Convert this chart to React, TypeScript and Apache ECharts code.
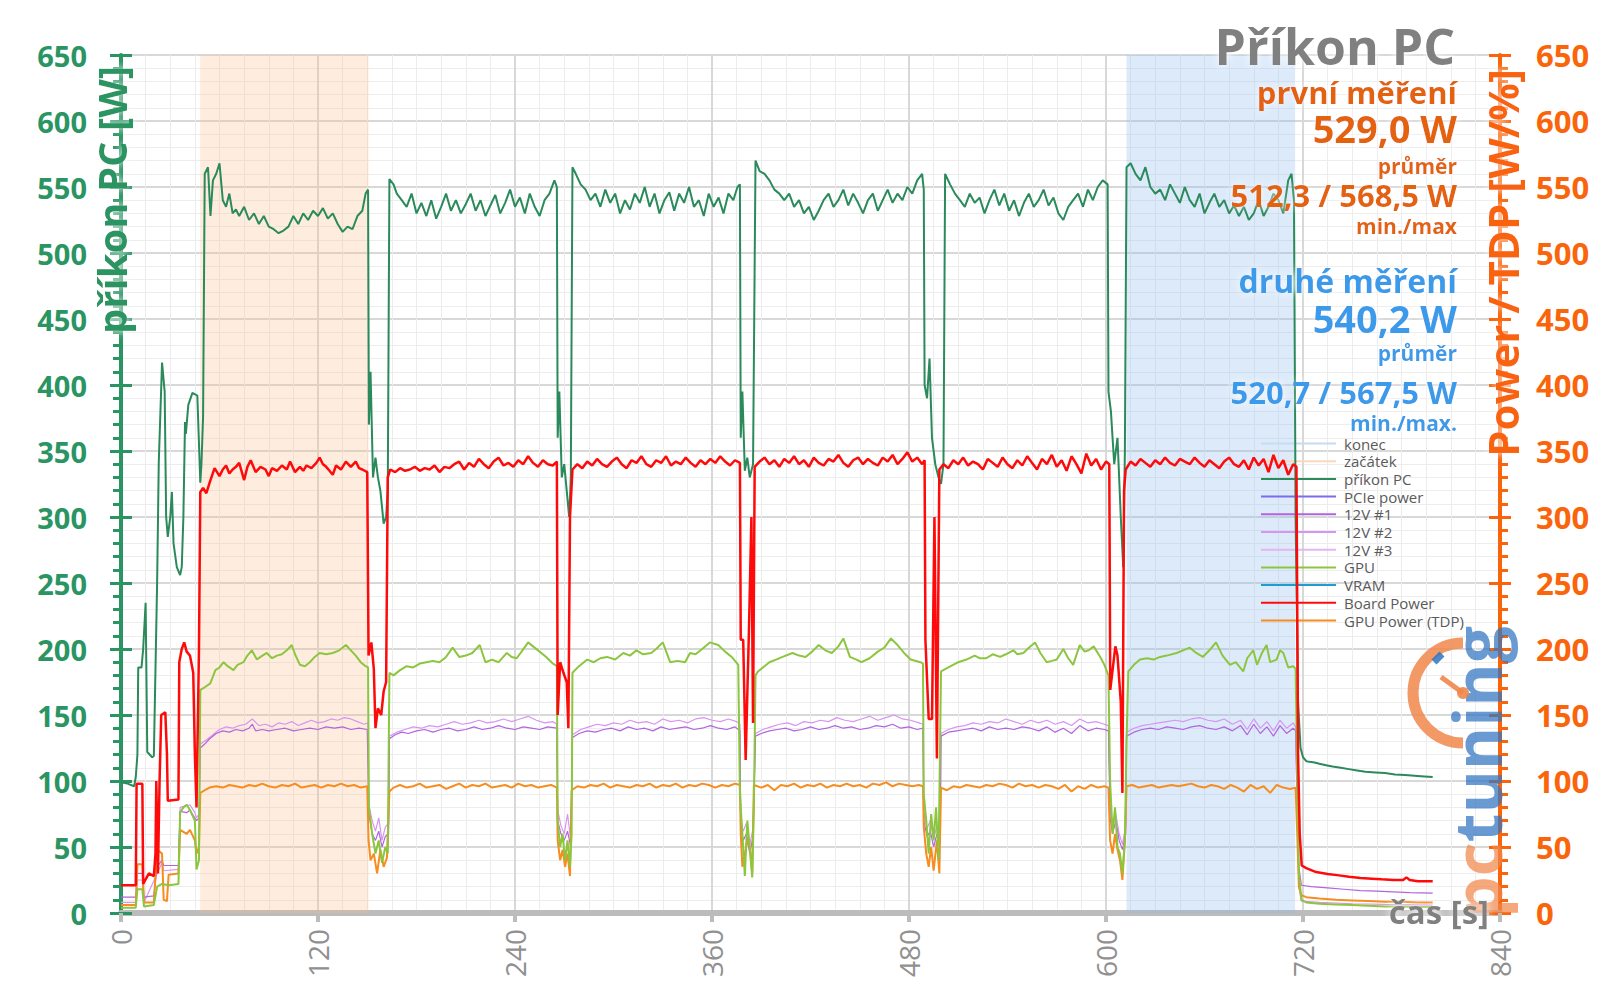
import React, { useEffect, useRef } from "react";
import * as echarts from "echarts";

// ---------- DATA (time [s], value) ----------
const pcPower: number[][] = [
  [0, 99], [4, 98], [8, 96], [9, 103], [10, 120], [10.5, 186], [12.5, 186], [13.5, 200], [15, 235], [16, 122], [19, 118], [20, 119],
  [22, 250], [23, 341], [25, 417], [26.6, 395], [27.5, 300], [28.5, 285], [30, 300], [31, 319], [32, 280], [34, 262], [36, 256],
  [37, 262], [38, 300], [39, 372], [39.5, 363], [41, 385], [43.5, 394], [46.5, 392], [48.3, 326], [49, 340], [50, 376], [51, 560],
  [53, 565], [54.5, 528], [56, 555], [58, 560], [60, 568], [62, 540], [64, 535], [66, 545], [68, 530], [70, 533], [72, 528], [75, 535],
  [78, 525], [81, 530], [84, 522], [87, 528], [90, 520], [93, 518], [96, 515], [99, 517], [102, 520], [105, 528], [108, 522], [111, 530],
  [114, 525], [117, 532], [120, 528], [123, 534], [126, 526], [129, 530], [132, 522], [135, 516], [138, 520], [141, 518], [144, 528],
  [147, 532], [149, 545], [150.5, 548],
  [151, 370], [152, 410], [153.5, 330], [155, 345], [156.5, 330], [158, 320], [160, 295], [161.5, 300], [162.5, 320], [163.5, 556],
  [166, 552], [168, 545], [171, 540], [174, 535], [177, 545], [180, 530], [183, 538], [186, 528], [189, 540], [192, 526], [195, 535],
  [198, 545], [201, 532], [204, 540], [207, 530], [210, 537], [213, 545], [216, 532], [219, 540], [222, 528], [225, 536], [228, 544],
  [231, 530], [234, 538], [237, 548], [240, 535], [243, 542], [246, 530], [249, 545], [252, 535], [255, 528], [258, 540], [261, 545],
  [264, 555], [265.5, 550],
  [266, 360], [267, 395], [268.5, 330], [270, 340], [271.5, 320], [273, 300], [274, 330], [275, 565], [277, 560], [280, 552], [283, 548],
  [286, 540], [289, 545], [292, 535], [295, 548], [298, 538], [301, 545], [304, 530], [307, 540], [310, 533], [313, 545], [316, 538],
  [319, 550], [322, 535], [325, 545], [328, 530], [331, 540], [334, 546], [337, 532], [340, 545], [343, 538], [346, 550], [349, 535],
  [352, 540], [355, 528], [358, 545], [361, 535], [364, 542], [367, 530], [370, 545], [373, 540], [375.5, 550], [377, 552],
  [377.5, 360], [378.5, 395], [380, 335], [381.5, 345], [383, 330], [385, 340], [386.5, 570], [389, 562], [392, 560], [395, 555],
  [398, 548], [401, 545], [404, 540], [407, 545], [410, 535], [413, 540], [416, 530], [419, 535], [422, 525], [425, 532], [428, 540],
  [431, 545], [434, 535], [437, 540], [440, 548], [443, 536], [446, 545], [449, 538], [452, 530], [455, 540], [458, 545], [461, 532],
  [464, 540], [467, 548], [470, 538], [473, 545], [476, 540], [479, 550], [482, 545], [485, 555], [488, 560], [489, 548],
  [489.5, 400], [491, 390], [492.5, 420], [494, 360], [496, 340], [498, 330], [499.5, 325], [501, 340], [502, 560], [505, 552],
  [508, 545], [511, 540], [514, 535], [517, 545], [520, 538], [523, 542], [526, 530], [529, 540], [532, 548], [535, 536], [538, 545],
  [541, 532], [544, 540], [547, 528], [550, 538], [553, 545], [556, 535], [559, 540], [562, 548], [565, 536], [568, 542], [571, 530],
  [574, 525], [577, 535], [580, 540], [583, 545], [586, 535], [589, 548], [592, 540], [595, 550], [598, 555], [601, 552],
  [601.5, 395], [603, 380], [605, 340], [607, 360], [609, 300], [610.5, 262], [611.5, 350], [612.5, 565], [615, 568], [618, 560],
  [621, 555], [624, 565], [627, 550], [630, 545], [633, 548], [636, 540], [639, 552], [642, 545], [645, 538], [648, 550], [651, 540],
  [654, 535], [657, 545], [660, 530], [663, 538], [666, 545], [669, 535], [672, 540], [675, 530], [678, 536], [681, 528], [684, 535],
  [687, 525], [690, 530], [693, 540], [696, 528], [699, 535], [702, 545], [705, 540], [708, 530], [711, 555], [713, 560], [714.5, 540],
  [715.5, 300], [717, 160], [718.5, 125], [720, 118], [722, 115], [724, 114.5], [727, 114], [730, 113], [734, 112], [738, 111],
  [743, 110], [748, 109], [753, 108], [758, 107], [764, 106.5], [770, 106], [776, 105], [782, 104.5], [788, 104], [794, 103.5], [799, 103],
];

const boardPower: number[][] = [
  [0, 21], [9, 21], [9.5, 98], [13, 98], [13.5, 22], [17, 30], [20, 28], [21, 45], [21.5, 100], [22.5, 30], [23.5, 100], [24.5, 150],
  [27, 152], [28, 120], [28.5, 85], [35, 86], [35.5, 190], [37, 200], [38.5, 205], [40, 198], [42, 195], [44, 182], [45, 120], [46, 80],
  [47.5, 200], [48.3, 319], [50, 322], [52, 318], [54, 326], [57, 337], [60, 331], [62, 336], [64, 339], [66, 333], [68, 336], [70, 338],
  [72, 341], [75, 328], [77, 338], [79, 343], [82, 334], [85, 338], [88, 336], [90, 331], [92, 337], [95, 335], [98, 339], [101, 336],
  [103, 342], [106, 334], [109, 338], [111, 335], [113, 339], [116, 337], [119, 341], [121, 345], [123, 340], [125, 338], [127, 335],
  [129, 332], [131, 339], [134, 336], [137, 342], [140, 338], [143, 342], [145, 337], [147, 336], [150, 334],
  [150.8, 195], [152.5, 205], [154, 185], [155, 140], [156.5, 155], [158.5, 150], [160, 168], [161.5, 175], [162.5, 330], [164, 336],
  [167, 334], [170, 337], [173, 335], [176, 336], [179, 338], [182, 335], [185, 337], [188, 336], [191, 339], [194, 334], [197, 338],
  [200, 337], [203, 340], [206, 342], [209, 336], [212, 341], [215, 338], [218, 344], [221, 340], [224, 337], [227, 342], [230, 345],
  [233, 339], [236, 341], [239, 338], [242, 343], [245, 340], [248, 346], [251, 341], [254, 338], [257, 343], [260, 340], [263, 339],
  [265.5, 342],
  [266, 150], [267.5, 190], [269.5, 182], [271.5, 175], [272.5, 140], [273.5, 300], [275, 336], [278, 340], [281, 337], [284, 342],
  [287, 339], [290, 344], [293, 340], [296, 338], [299, 342], [302, 345], [305, 340], [308, 337], [311, 343], [314, 341], [317, 346],
  [320, 340], [323, 338], [326, 343], [329, 341], [332, 346], [335, 339], [338, 342], [341, 340], [344, 345], [347, 341], [350, 338],
  [353, 343], [356, 340], [359, 344], [362, 341], [365, 346], [368, 342], [371, 339], [374, 343], [377, 341],
  [377.5, 207], [379, 207], [380.5, 116], [382.5, 214], [384, 300], [385, 144], [386, 338], [389, 342], [392, 345], [395, 340],
  [398, 343], [401, 338], [404, 344], [407, 341], [410, 346], [413, 340], [416, 343], [419, 338], [422, 345], [425, 341], [428, 339],
  [431, 344], [434, 342], [437, 347], [440, 341], [443, 338], [446, 343], [449, 345], [452, 340], [455, 344], [458, 341], [461, 339],
  [464, 345], [467, 342], [470, 347], [473, 340], [476, 344], [479, 349], [482, 342], [485, 345], [488, 340], [489.5, 343],
  [490, 207], [492, 147], [494, 147], [495.5, 300], [497, 117], [498.5, 336], [501, 340], [504, 337], [507, 343], [510, 340],
  [513, 345], [516, 339], [519, 342], [522, 340], [525, 336], [528, 344], [531, 341], [534, 338], [537, 345], [540, 340], [543, 337],
  [546, 343], [549, 339], [552, 346], [555, 341], [558, 336], [561, 344], [564, 340], [567, 347], [570, 338], [573, 343], [576, 335],
  [579, 346], [582, 340], [585, 333], [588, 348], [591, 339], [594, 344], [597, 336], [600, 342], [602, 340],
  [602.6, 169], [605.7, 202], [607, 195], [609, 160], [610, 91], [611, 320], [612, 336], [615, 342], [618, 339], [621, 344], [624, 341],
  [627, 338], [630, 343], [633, 340], [636, 345], [639, 341], [642, 339], [645, 344], [648, 342], [651, 340], [654, 345], [657, 341],
  [660, 338], [663, 343], [666, 340], [669, 337], [672, 342], [675, 345], [678, 340], [681, 338], [684, 343], [687, 336], [690, 345],
  [693, 339], [696, 344], [699, 334], [702, 347], [705, 337], [708, 343], [711, 332], [714, 340], [716, 338],
  [717, 120], [718, 60], [719.2, 36], [722, 34], [728, 31], [735, 29.5], [742, 28.5], [748, 27.5], [755, 26.5], [762, 26], [768, 25.5],
  [775, 25], [781, 25], [783, 27], [785, 25], [790, 24], [799, 24],
];

const gpuPower: number[][] = [
  [0, 4], [9, 4], [10, 18], [13, 18], [14, 5], [20, 6], [22, 20], [25, 22], [29, 21], [35, 22], [36, 76], [38, 80], [40, 82], [42, 78],
  [45, 70], [46, 33], [47.5, 40], [48.3, 169], [51, 171], [54.4, 174], [57.5, 184], [60, 186], [62.5, 190], [65, 187], [68.5, 184],
  [71, 188], [74.6, 190], [77, 195], [79.7, 199], [82.8, 192], [85, 194], [88.8, 197], [92, 193], [95, 195], [98, 196], [101, 199],
  [104, 203], [106, 196], [109, 188], [112, 187], [115, 190], [118, 194], [121, 197], [125, 196], [129, 197], [133, 199], [137, 203],
  [140, 199], [143, 195], [146, 190], [149, 187], [150.5, 186],
  [151, 80], [153, 60], [155, 45], [157, 55], [159, 38], [161, 50], [162.5, 45], [163.5, 182], [166, 180], [170, 184], [174, 187],
  [178, 186], [182, 189], [186, 190], [190, 191], [194, 190], [198, 194], [202, 201], [206, 194], [210, 195], [214, 197], [218.5, 203],
  [222, 190], [226, 192], [230, 190], [235, 197], [238, 194], [241, 193], [244, 198], [248, 205], [251, 202], [255, 198], [259, 194],
  [263, 189], [265.5, 187],
  [266, 70], [267.5, 50], [269, 60], [270.5, 40], [272, 55], [273.5, 35], [274.5, 60], [275, 182], [279, 187], [284, 192], [288, 190],
  [292, 193], [296, 194], [301, 192], [306, 197], [310, 195], [314, 199], [318, 196], [323, 197], [326, 200], [330, 205], [334.5, 190],
  [339, 191], [343.6, 190], [346.6, 197], [350, 196], [354, 200], [358.7, 205], [363.8, 203], [368, 198], [372, 194], [376, 188],
  [377, 90], [378.5, 60], [380, 28], [381.5, 70], [383, 50], [384.5, 27], [385.5, 80], [386.5, 180], [388, 183], [391, 186], [395, 190],
  [399, 192], [403, 194], [409, 197], [413, 195], [417, 194], [421, 198], [425, 203], [429, 199], [433, 197], [437, 202], [440, 208],
  [444, 194], [448, 192], [451, 190], [456, 193], [461, 198], [465, 201], [469, 208], [473, 203], [477, 197], [481, 192], [487, 190],
  [488.5, 189],
  [489, 90], [490.5, 70], [492, 45], [493.5, 75], [495, 55], [496.5, 80], [498, 40], [499.5, 183], [504, 186], [510, 190], [515, 192],
  [520, 195], [523, 193], [527, 193], [531, 196], [535.5, 194], [539, 196], [543.6, 199], [546, 196], [549.7, 197], [553, 201],
  [556.8, 205], [560, 197], [563.9, 190], [567, 191], [570, 192], [574, 200], [577, 193], [580, 188], [584, 203], [587, 198],
  [589.5, 199], [592.5, 202], [596.5, 194], [599, 188], [601.5, 180],
  [602.5, 100], [604, 60], [605.5, 80], [607, 50], [608.5, 45], [610, 30], [611.5, 55], [612.5, 130], [613.6, 183], [617, 188],
  [620.7, 192], [625, 193], [629, 192], [632.9, 194], [637, 195], [643, 197], [647, 199], [651, 201], [655, 197], [659, 194], [663, 199],
  [667, 205], [671, 195], [675.5, 188], [679, 190], [683.6, 183], [686, 193], [689.7, 199], [692, 188], [695, 197], [697.8, 203],
  [700, 190], [703.9, 192], [706, 199], [708, 197], [711, 186], [714, 187], [715.5, 185],
  [716.5, 100], [717.5, 30], [719, 10], [722, 8], [730, 7], [740, 6.5], [750, 6], [760, 5.5], [770, 5], [780, 5], [790, 4.5], [799, 4.5],
];

const tdpPower: number[][] = [
  [0, 6], [9, 6], [10, 37], [13, 37], [14, 8], [20, 8], [22, 48], [25, 45], [26, 10], [28, 9], [29, 29], [35, 30], [36, 63], [40, 60],
  [42, 63], [45, 55], [46, 45], [47.5, 50], [48.3, 91], [51, 93], [54, 95], [58, 96], [62, 95], [66, 97], [70, 96], [74, 95], [78, 97],
  [82, 96], [86, 98], [90, 96], [94, 95], [98, 97], [102, 96], [106, 98], [110, 95], [114, 96], [118, 97], [122, 95], [126, 97],
  [130, 96], [134, 98], [138, 96], [142, 97], [146, 95], [150, 96],
  [150.8, 55], [152, 40], [154, 45], [156, 30], [158, 48], [160, 35], [162, 42], [163.5, 92], [166, 95], [170, 97], [174, 95],
  [178, 96], [182, 98], [186, 95], [190, 96], [194, 97], [198, 94], [202, 96], [206, 98], [210, 95], [214, 97], [218, 96], [222, 98],
  [226, 95], [230, 96], [234, 97], [238, 95], [242, 98], [246, 96], [250, 97], [254, 95], [258, 96], [262, 97], [265.5, 95],
  [266, 55], [267.5, 40], [269, 48], [270.5, 35], [272, 45], [273.5, 28], [274.5, 93], [278, 96], [282, 95], [286, 97], [290, 96],
  [294, 98], [298, 95], [302, 97], [306, 96], [310, 95], [314, 97], [318, 96], [322, 98], [326, 95], [330, 97], [334, 96], [338, 98],
  [342, 95], [346, 97], [350, 96], [354, 98], [358, 97], [362, 95], [366, 97], [370, 96], [374, 98], [377, 97],
  [377.5, 60], [378.5, 35], [380, 45], [381.5, 55], [383, 50], [384.5, 30], [385.5, 97], [390, 95], [394, 97], [398, 93], [402, 97],
  [406, 96], [410, 98], [414, 95], [418, 97], [422, 96], [426, 98], [430, 95], [434, 97], [438, 96], [442, 98], [446, 96], [450, 97],
  [454, 95], [458, 98], [462, 97], [466, 99], [470, 96], [474, 98], [478, 97], [482, 96], [486, 97], [488.5, 96],
  [489, 65], [490.5, 45], [492, 35], [493.5, 50], [495, 32], [497, 55], [498.5, 30], [499.5, 95], [503, 93], [507, 96], [511, 95],
  [515, 97], [519, 96], [523, 95], [527, 97], [531, 96], [535, 98], [539, 97], [543, 95], [547, 98], [551, 96], [555, 97], [559, 95],
  [563, 97], [567, 96], [571, 94], [575, 97], [579, 92], [583, 96], [587, 94], [591, 97], [595, 95], [599, 96], [601.5, 95],
  [602.5, 55], [604, 45], [605.5, 60], [607, 48], [608.5, 40], [610, 25], [611.5, 55], [612.5, 96], [616, 97], [620, 95], [624, 96],
  [628, 97], [632, 95], [636, 96], [640, 97], [644, 96], [648, 97], [652, 98], [656, 96], [660, 95], [664, 97], [668, 96], [672, 94],
  [676, 97], [680, 95], [684, 92], [688, 97], [692, 94], [696, 96], [700, 91], [704, 97], [708, 95], [712, 94], [715.5, 95],
  [716.5, 60], [717.5, 20], [719, 13.5], [722, 12], [730, 11], [740, 10], [750, 9.5], [760, 9], [770, 8.5], [780, 8.5], [790, 8], [799, 8],
];

const v12One: number[][] = [
  [0, 12], [9, 12], [10, 30], [13, 30], [14, 12], [20, 13], [22, 35], [25, 40], [26, 36], [35, 36], [36, 77], [40, 76], [42, 78],
  [45, 72], [46, 70], [47.5, 72], [48.3, 125], [51, 128], [54, 132], [58, 136], [62, 138], [66, 137], [70, 139], [74, 138], [78, 140],
  [80, 143], [82, 138], [86, 139], [90, 138], [95, 139], [100, 140], [105, 138], [110, 139], [115, 140], [120, 139], [125, 141],
  [130, 140], [135, 141], [140, 139], [145, 140], [150, 139],
  [151, 75], [153, 60], [155, 55], [157, 62], [159, 50], [161, 58], [163, 60], [163.5, 132], [167, 135], [171, 137], [175, 136],
  [180, 138], [185, 139], [190, 137], [195, 139], [200, 140], [205, 138], [210, 139], [215, 141], [220, 139], [225, 140], [230, 142],
  [235, 140], [240, 139], [245, 141], [250, 140], [255, 139], [260, 141], [265.5, 140],
  [266, 70], [268, 60], [270, 55], [272, 62], [274, 50], [275, 133], [279, 136], [284, 138], [289, 137], [294, 139], [299, 140],
  [304, 138], [309, 141], [314, 139], [319, 140], [324, 138], [329, 141], [334, 139], [339, 140], [344, 141], [349, 139], [354, 140],
  [359, 142], [364, 140], [369, 139], [374, 141], [377, 138],
  [377.5, 65], [379, 55], [381, 60], [383, 45], [385, 58], [386.5, 134], [390, 136], [395, 138], [400, 139], [405, 140], [410, 138],
  [415, 139], [420, 141], [425, 139], [430, 140], [435, 142], [440, 140], [445, 141], [450, 139], [455, 140], [460, 142], [465, 141],
  [470, 143], [475, 140], [480, 141], [485, 139], [488.5, 140],
  [489, 70], [491, 58], [493, 62], [495, 50], [497, 60], [499, 55], [499.5, 134], [504, 137], [509, 138], [514, 139], [519, 140],
  [524, 138], [529, 141], [534, 139], [539, 140], [544, 139], [549, 141], [554, 140], [559, 138], [564, 141], [569, 137], [574, 140],
  [579, 136], [584, 142], [589, 138], [594, 140], [599, 139], [601.5, 138],
  [602.5, 72], [604, 60], [606, 70], [608, 55], [610, 48], [612, 60], [612.5, 134], [617, 137], [622, 139], [627, 140], [632, 139],
  [637, 141], [642, 140], [647, 139], [652, 141], [657, 142], [662, 140], [667, 139], [672, 141], [677, 138], [682, 142], [686, 135],
  [690, 143], [694, 136], [698, 141], [702, 134], [706, 142], [710, 136], [714, 140], [715.5, 138],
  [716.5, 80], [717.5, 35], [719, 21], [725, 20], [735, 19], [745, 18], [755, 17], [765, 16.5], [775, 16], [785, 15.5], [799, 15],
];

const v12Two: number[][] = [
  [0, 8], [9, 8], [10, 25], [13, 25], [14, 8], [22, 30], [25, 38], [26, 32], [35, 33], [36, 80], [42, 82], [45, 76], [46, 72],
  [47.5, 75], [48.3, 128], [52, 131], [56, 135], [60, 139], [64, 141], [68, 140], [72, 142], [76, 143], [80, 147], [84, 142], [88, 143],
  [92, 141], [96, 144], [100, 143], [104, 145], [108, 142], [112, 144], [116, 146], [120, 144], [124, 145], [128, 147], [132, 146],
  [136, 148], [140, 147], [144, 145], [148, 143], [150.5, 144],
  [151, 82], [153, 70], [155, 62], [157, 72], [159, 55], [161, 65], [163, 68], [163.5, 134], [168, 137], [173, 139], [178, 141],
  [183, 140], [188, 142], [193, 141], [198, 143], [203, 145], [208, 143], [213, 144], [218, 146], [223, 144], [228, 145], [233, 147],
  [238, 145], [243, 147], [248, 149], [253, 146], [258, 144], [263, 145], [265.5, 143],
  [266, 78], [268, 66], [270, 60], [272, 75], [274, 55], [275, 135], [280, 139], [285, 141], [290, 143], [295, 142], [300, 144],
  [305, 143], [310, 146], [315, 144], [320, 145], [325, 143], [330, 147], [335, 145], [340, 146], [345, 144], [350, 147], [355, 148],
  [360, 146], [365, 145], [370, 147], [375, 145], [377, 143],
  [377.5, 70], [379, 62], [381, 68], [383, 52], [385, 64], [386.5, 136], [391, 139], [396, 141], [401, 143], [406, 144], [411, 142],
  [416, 145], [421, 144], [426, 146], [431, 145], [436, 148], [441, 146], [446, 145], [451, 147], [456, 149], [461, 146], [466, 148],
  [471, 150], [476, 147], [481, 146], [486, 144], [488.5, 143],
  [489, 76], [491, 64], [493, 70], [495, 56], [497, 66], [499, 60], [499.5, 136], [504, 139], [509, 141], [514, 142], [519, 144],
  [524, 143], [529, 145], [534, 144], [539, 147], [544, 145], [549, 143], [554, 146], [559, 144], [564, 146], [569, 143], [574, 145],
  [579, 142], [584, 147], [589, 144], [594, 145], [599, 143], [601.5, 142],
  [602.5, 80], [604, 66], [606, 75], [608, 60], [610, 52], [612, 66], [612.5, 137], [617, 140], [622, 142], [627, 143], [632, 144],
  [637, 145], [642, 146], [647, 145], [652, 147], [657, 148], [662, 146], [667, 145], [672, 147], [677, 143], [682, 146], [686, 139],
  [690, 147], [694, 140], [698, 145], [702, 138], [706, 146], [710, 140], [714, 144], [715.5, 141],
  [716.5, 70], [717.5, 20], [719, 9], [730, 8], [750, 7], [770, 6.5], [799, 6],
];

const v12Three: number[][] = [];
const pciePower: number[][] = [];
const vramPower: number[][] = [];

const firstRun = [48.2, 150.8];
const secondRun = [612.5, 715.2];

const legendNames = ["konec", "začátek", "příkon PC", "PCIe power", "12V #1", "12V #2", "12V #3", "GPU", "VRAM", "Board Power", "GPU Power (TDP)"];

const chartTitle = "Příkon PC";
const summaryFirst = ["první měření", "529,0 W", "průměr", "512,3 / 568,5 W", "min./max"];
const summarySecond = ["druhé měření", "540,2 W", "průměr", "520,7 / 567,5 W", "min./max."];
const leftAxisName = "příkon PC [W]";
const rightAxisName = "Power / TDP [W/%]";
const xAxisName = "čas [s]";

// ---------- STYLE ----------
const FONT = "'Open Sans', 'Noto Sans', 'DejaVu Sans', sans-serif";
const GREEN = "#2a9563";
const ORANGE_AX = "#fa640a";
const ORANGE_TXT = "#e4620c";
const BLUE_TXT = "#3b9ae9";
const GRAY = "#808080";

function lineSeries(name: string, data: number[][], color: string, width: number, yAxisIndex: number, z: number) {
  return {
    name,
    type: "line",
    data,
    yAxisIndex,
    symbol: "none",
    showSymbol: false,
    silent: true,
    z,
    lineStyle: { color, width },
    itemStyle: { color },
  };
}

function glowText(text: string, x: number, y: number, size: number, color: string, weight = "bold", extra: any = {}) {
  const { align, ...rest } = extra;
  return {
    type: "text",
    x,
    y,
    z: 100,
    silent: true,
    ...rest,
    style: {
      text,
      fill: color,
      fontSize: size,
      fontWeight: weight,
      fontFamily: FONT,
      lineHeight: Math.round(size * 0.85),
      align: align || "right",
      textAlign: align || "right",
      verticalAlign: "middle",
      textVerticalAlign: "middle",
      textShadowColor: "rgba(255,255,255,1)",
      textShadowBlur: 8,
    },
  };
}

function buildOption() {
  const yCommon = { type: "value", min: 0, max: 650, interval: 50 };
  const rightX = 1457;
  const firstY = [92, 128, 166, 195, 226];
  const secondY = [280, 318, 353, 392, 423];
  const sizes = [31, 38, 21, 31, 21];
  const headSizes = [32, 38, 21, 31, 21];

  const graphics: any[] = [
    glowText(chartTitle, 1455, 46, 50, GRAY),
    ...summaryFirst.map((t, i) => glowText(t, rightX, firstY[i], sizes[i], ORANGE_TXT)),
    ...summarySecond.map((t, i) => glowText(t, rightX, secondY[i], headSizes[i], BLUE_TXT)),
    glowText(leftAxisName, 111, 200, 40, GREEN, "bold", { rotation: Math.PI / 2, align: "center" }),
    glowText(rightAxisName, 1502, 263, 42, ORANGE_AX, "bold", { rotation: Math.PI / 2, align: "center" }),
    glowText(xAxisName, 1489, 911, 33, GRAY),
    // logo
    {
      type: "arc",
      z: 60,
      silent: true,
      shape: { cx: 1463, cy: 693, r: 50, startAngle: Math.PI * 0.5, endAngle: Math.PI * 1.5, clockwise: true },
      style: { stroke: "#f0874a", lineWidth: 11, fill: "none", opacity: 0.85 },
    },
    {
      type: "line",
      z: 61,
      silent: true,
      shape: { x1: 1463, y1: 693, x2: 1441, y2: 677 },
      style: { stroke: "#f0874a", lineWidth: 5, opacity: 0.9 },
    },
    {
      type: "circle",
      z: 61,
      silent: true,
      shape: { cx: 1463, cy: 693, r: 6 },
      style: { fill: "#f0874a", opacity: 0.9 },
    },
    {
      type: "line",
      z: 61,
      silent: true,
      shape: { x1: 1434, y1: 662, x2: 1442, y2: 654 },
      style: { stroke: "#2f74c0", lineWidth: 7, opacity: 0.85 },
    },
    {
      type: "text",
      x: 1476,
      y: 772,
      rotation: Math.PI / 2,
      z: 55,
      silent: true,
      style: {
        text: "{a|pc}{b|tuning}",
        align: "center",
        textAlign: "center",
        verticalAlign: "middle",
        textVerticalAlign: "middle",
        rich: {
          a: { fill: "#f0874a", color: "#f0874a", fontSize: 66, fontWeight: "bold", fontFamily: FONT },
          b: { fill: "#2f74c0", color: "#2f74c0", fontSize: 66, fontWeight: "bold", fontFamily: FONT },
        },
        opacity: 0.72,
      },
    },
  ];

  return {
    animation: false,
    backgroundColor: "#ffffff",
    grid: { left: 121, right: 100, top: 55, bottom: 95, containLabel: false },
    legend: {
      orient: "vertical",
      left: 1255,
      top: 431,
      itemWidth: 75,
      itemHeight: 10,
      itemGap: 2.7,
      data: legendNames,
      itemStyle: { opacity: 0 },
      textStyle: { fontSize: 15, color: "#5a5a5a", fontFamily: FONT, padding: [0, 0, 0, 3] },
      selectedMode: false,
    },
    xAxis: {
      type: "value",
      min: 0,
      max: 840,
      interval: 120,
      axisLine: { show: true, onZero: false, lineStyle: { color: "#bcbcbc", width: 6 } },
      axisTick: { show: true, length: 9, lineStyle: { color: "#bcbcbc", width: 4 } },
      minorTick: { show: false, splitNumber: 8 },
      axisLabel: { rotate: 90, fontSize: 28, color: "#909090", fontFamily: FONT, margin: 16 },
      splitLine: { show: true, lineStyle: { color: "#d8d8d8", width: 2 } },
      minorSplitLine: { show: true, lineStyle: { color: "#ececec", width: 1 } },
    },
    yAxis: [
      {
        ...yCommon,
        position: "left",
        axisLine: { show: true, lineStyle: { color: GREEN, width: 4 } },
        axisTick: { show: true, length: 11, lineStyle: { color: GREEN, width: 3 } },
        minorTick: { show: true, splitNumber: 5, length: 8, lineStyle: { color: GREEN, width: 3 } },
        axisLabel: { fontSize: 29, fontWeight: "bold", color: GREEN, fontFamily: FONT, margin: 34 },
        splitLine: { show: true, lineStyle: { color: "#d8d8d8", width: 2 } },
        minorSplitLine: { show: true, lineStyle: { color: "#ededed", width: 1 } },
      },
      {
        ...yCommon,
        position: "right",
        axisLine: { show: true, lineStyle: { color: ORANGE_AX, width: 4 } },
        axisTick: { show: true, length: 11, lineStyle: { color: ORANGE_AX, width: 3 } },
        minorTick: { show: true, splitNumber: 5, length: 8, lineStyle: { color: ORANGE_AX, width: 3 } },
        axisLabel: { fontSize: 31, fontWeight: "bold", color: ORANGE_AX, fontFamily: FONT, margin: 36 },
        splitLine: { show: false },
      },
      {
        ...yCommon,
        position: "left",
        axisLine: { show: false },
        axisTick: { show: true, inside: true, length: 11, lineStyle: { color: GREEN, width: 3 } },
        axisLabel: { show: false },
        splitLine: { show: false },
      },
      {
        ...yCommon,
        position: "right",
        axisLine: { show: false },
        axisTick: { show: true, inside: true, length: 11, lineStyle: { color: ORANGE_AX, width: 3 } },
        axisLabel: { show: false },
        splitLine: { show: false },
      },
    ],
    series: [
      {
        name: "začátek",
        type: "line",
        data: [],
        yAxisIndex: 1,
        symbol: "none",
        z: 1,
        lineStyle: { color: "#fbd8bb", width: 3 },
        itemStyle: { color: "#fbd8bb" },
        markArea: {
          silent: true,
          itemStyle: { color: "rgba(250,190,140,0.28)" },
          data: [[{ xAxis: firstRun[0] }, { xAxis: firstRun[1] }]],
        },
      },
      {
        name: "konec",
        type: "line",
        data: [],
        yAxisIndex: 1,
        symbol: "none",
        z: 1,
        lineStyle: { color: "#c6dcf4", width: 3 },
        itemStyle: { color: "#c6dcf4" },
        markArea: {
          silent: true,
          itemStyle: { color: "rgba(140,185,240,0.3)" },
          data: [[{ xAxis: secondRun[0] }, { xAxis: secondRun[1] }]],
        },
      },
      lineSeries("12V #3", v12Three, "#e3b5f3", 1.2, 1, 3),
      lineSeries("PCIe power", pciePower, "#7a6bef", 1.2, 1, 3),
      lineSeries("VRAM", vramPower, "#1c9fd0", 2, 1, 3),
      lineSeries("12V #2", v12Two, "#d795f1", 1.2, 1, 3),
      lineSeries("12V #1", v12One, "#b263e0", 1.2, 1, 3),
      lineSeries("GPU Power (TDP)", tdpPower, "#f78c1f", 2, 1, 4),
      lineSeries("GPU", gpuPower, "#8cc63f", 2, 1, 4),
      lineSeries("příkon PC", pcPower, "#2b8a5b", 2, 0, 5),
      lineSeries("Board Power", boardPower, "#ff0a0a", 2.5, 1, 6),
    ],
    graphic: graphics,
  };
}

export default function App() {
  const ref = useRef<HTMLDivElement>(null);
  useEffect(() => {
    if (!ref.current) return;
    const chart = echarts.init(ref.current, null, { renderer: "svg" });
    chart.setOption(buildOption() as any);
    return () => chart.dispose();
  }, []);
  return (
    <div
      ref={ref}
      style={{ position: "fixed", left: 0, top: 0, width: 1600, height: 1008, background: "#ffffff" }}
    />
  );
}
